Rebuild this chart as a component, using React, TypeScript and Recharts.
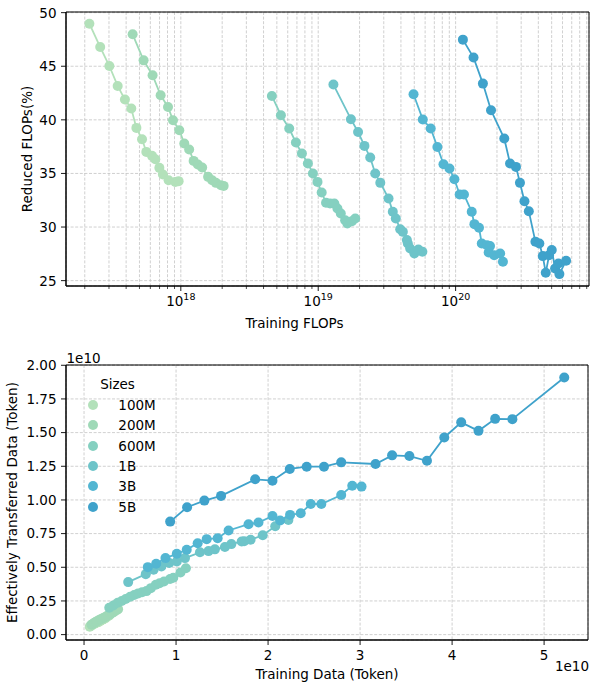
import React from "react";
import { ScatterChart, Scatter, XAxis, YAxis, CartesianGrid, ReferenceArea } from "recharts";

const SIZES = ["100M", "200M", "600M", "1B", "3B", "5B"];
const COLORS = ["#b3e1ba", "#9fd9b7", "#85d0c0", "#6ec4c9", "#53b6d2", "#3fa2cb"];

// top panel: training FLOPs vs reduced FLOPs (%)
const FLOPS_100M = [2.16e17, 2.59e17, 3.02e17, 3.47e17, 3.92e17, 4.36e17, 4.75e17, 5.22e17, 5.61e17, 6.17e17, 6.52e17, 6.98e17, 7.41e17, 8.15e17, 9.12e17, 9.64e17];
const REDUCED_100M = [48.97, 46.79, 45.02, 43.16, 41.89, 41.05, 39.25, 38.19, 37.01, 36.64, 36.33, 35.52, 34.9, 34.37, 34.21, 34.28];
const FLOPS_200M = [4.46e17, 5.36e17, 6.23e17, 7.13e17, 8.07e17, 8.77e17, 9.75e17, 1.06e18, 1.15e18, 1.24e18, 1.33e18, 1.43e18, 1.58e18, 1.69e18, 1.8e18, 1.96e18, 2.05e18];
const REDUCED_200M = [47.98, 45.55, 44.16, 42.29, 41.2, 39.96, 39.03, 37.79, 37.23, 36.17, 35.83, 35.55, 34.68, 34.37, 34.12, 33.9, 33.84];
const FLOPS_600M = [4.6e18, 5.35e18, 6.15e18, 6.88e18, 7.61e18, 8.41e18, 9.15e18, 9.88e18, 1.06e19, 1.14e19, 1.22e19, 1.31e19, 1.38e19, 1.46e19, 1.57e19, 1.63e19, 1.76e19, 1.86e19];
const REDUCED_600M = [42.23, 40.43, 39.19, 37.88, 36.86, 35.93, 35.0, 34.21, 33.22, 32.26, 32.2, 32.2, 31.73, 31.27, 30.64, 30.33, 30.55, 30.8];
const FLOPS_1B = [1.29e19, 1.73e19, 1.95e19, 2.17e19, 2.39e19, 2.6e19, 2.83e19, 3.25e19, 3.49e19, 3.67e19, 3.95e19, 4.13e19, 4.42e19, 4.49e19, 4.67e19, 5.01e19, 5.36e19, 5.73e19];
const REDUCED_1B = [43.29, 40.06, 38.87, 37.57, 36.49, 35.0, 34.12, 32.67, 31.42, 30.8, 29.8, 29.55, 28.78, 28.47, 28.0, 27.54, 27.91, 27.69];
const FLOPS_3B = [4.94e19, 5.77e19, 6.59e19, 7.37e19, 8.16e19, 9.02e19, 9.8e19, 1.07e20, 1.15e20, 1.31e20, 1.37e20, 1.48e20, 1.55e20, 1.69e20, 1.74e20, 1.78e20, 1.91e20, 2.11e20, 2.21e20];
const REDUCED_3B = [42.39, 40.03, 39.19, 37.47, 35.86, 35.46, 34.46, 33.04, 33.04, 31.42, 30.27, 29.93, 28.47, 28.31, 27.63, 28.22, 27.38, 27.54, 26.76];
const FLOPS_5B = [1.13e20, 1.35e20, 1.58e20, 1.81e20, 2.26e20, 2.49e20, 2.75e20, 2.94e20, 3.17e20, 3.41e20, 3.81e20, 4.07e20, 4.31e20, 4.53e20, 4.79e20, 5.01e20, 5.3e20, 5.6e20, 5.69e20, 6.37e20];
const REDUCED_5B = [47.48, 45.81, 43.38, 40.89, 38.26, 35.93, 35.61, 34.12, 32.41, 31.48, 28.62, 28.47, 27.29, 25.73, 27.38, 27.85, 26.14, 26.6, 25.61, 26.86];

// bottom panel: training tokens vs effectively transferred tokens (both x1e10)
const TOKENS_100M = [0.062, 0.074, 0.086, 0.099, 0.112, 0.125, 0.136, 0.149, 0.16, 0.176, 0.186, 0.199, 0.212, 0.233, 0.261, 0.275];
const TRANSFER_100M = [0.059, 0.065, 0.071, 0.075, 0.081, 0.087, 0.088, 0.092, 0.094, 0.102, 0.106, 0.11, 0.114, 0.122, 0.136, 0.143];
const TOKENS_200M = [0.081, 0.097, 0.113, 0.129, 0.146, 0.158, 0.176, 0.191, 0.208, 0.224, 0.24, 0.258, 0.285, 0.305, 0.325, 0.354, 0.37];
const TRANSFER_200M = [0.074, 0.081, 0.089, 0.094, 0.102, 0.105, 0.113, 0.116, 0.123, 0.127, 0.134, 0.142, 0.151, 0.16, 0.168, 0.182, 0.189];
const TOKENS_600M = [0.274, 0.318, 0.366, 0.41, 0.453, 0.501, 0.545, 0.588, 0.631, 0.679, 0.726, 0.78, 0.821, 0.869, 0.935, 0.97, 1.048, 1.107];
const TRANSFER_600M = [0.2, 0.216, 0.236, 0.25, 0.265, 0.281, 0.294, 0.306, 0.314, 0.323, 0.345, 0.37, 0.382, 0.395, 0.413, 0.422, 0.461, 0.493];
const TOKENS_1B = [0.48, 0.671, 0.756, 0.841, 0.926, 1.008, 1.097, 1.26, 1.353, 1.422, 1.531, 1.601, 1.713, 1.74, 1.81, 1.942, 2.078, 2.221];
const TRANSFER_1B = [0.39, 0.449, 0.481, 0.506, 0.532, 0.543, 0.568, 0.611, 0.62, 0.633, 0.65, 0.672, 0.692, 0.693, 0.704, 0.738, 0.805, 0.851];
const TOKENS_3B = [0.693, 0.784, 0.885, 1.008, 1.116, 1.235, 1.333, 1.452, 1.571, 1.788, 1.896, 2.048, 2.131, 2.239, 2.355, 2.464, 2.579, 2.795, 2.915, 3.016];
const TRANSFER_3B = [0.501, 0.526, 0.568, 0.6, 0.63, 0.679, 0.709, 0.716, 0.773, 0.82, 0.832, 0.881, 0.847, 0.889, 0.901, 0.97, 0.97, 1.037, 1.106, 1.099];
const TOKENS_5B = [0.936, 1.12, 1.308, 1.489, 1.86, 2.048, 2.236, 2.42, 2.608, 2.795, 3.168, 3.348, 3.536, 3.727, 3.915, 4.099, 4.287, 4.468, 4.655, 5.219];
const TRANSFER_5B = [0.839, 0.946, 0.995, 1.03, 1.153, 1.143, 1.23, 1.247, 1.247, 1.279, 1.267, 1.331, 1.326, 1.291, 1.464, 1.576, 1.513, 1.602, 1.6, 1.909];

const FLOPS = [FLOPS_100M, FLOPS_200M, FLOPS_600M, FLOPS_1B, FLOPS_3B, FLOPS_5B];
const REDUCED = [REDUCED_100M, REDUCED_200M, REDUCED_600M, REDUCED_1B, REDUCED_3B, REDUCED_5B];
const TOKENS = [TOKENS_100M, TOKENS_200M, TOKENS_600M, TOKENS_1B, TOKENS_3B, TOKENS_5B];
const TRANSFER = [TRANSFER_100M, TRANSFER_200M, TRANSFER_600M, TRANSFER_1B, TRANSFER_3B, TRANSFER_5B];

const FLOPS_DOMAIN: [number, number] = [1.46e17, 9.35e20];
const FLOPS_MAJOR = [1e18, 1e19, 1e20];
const FLOPS_TICKS = [1e17, 1e18, 1e19, 1e20]
  .flatMap((d) => [1, 2, 3, 4, 5, 6, 7, 8, 9].map((m) => m * d))
  .filter((v) => v >= FLOPS_DOMAIN[0] && v <= FLOPS_DOMAIN[1]);
const REDUCED_DOMAIN: [number, number] = [24.5, 50.06];
const REDUCED_TICKS = [25, 30, 35, 40, 45, 50];

const TOKENS_DOMAIN: [number, number] = [-0.196, 5.477];
const TOKENS_TICKS = [0, 1, 2, 3, 4, 5];
const TRANSFER_DOMAIN: [number, number] = [-0.04, 2.002];
const TRANSFER_TICKS = [0, 0.25, 0.5, 0.75, 1, 1.25, 1.5, 1.75, 2];

const FONT = 13.5;
const GRID = { stroke: "#c4c4c4", strokeDasharray: "3 1.6", strokeWidth: 0.8 };

const zip = (xs: number[], ys: number[]) => xs.map((x, i) => ({ x, y: ys[i] }));

function LogTick({ x, y, payload }: any) {
  const v = payload.value;
  const major = FLOPS_MAJOR.includes(v);
  const exp = Math.round(Math.log10(v));
  return (
    <g>
      <line x1={x} x2={x} y1={y} y2={y + (major ? 5 : 3)} stroke="#000" strokeWidth={major ? 0.9 : 0.7} />
      {major && (
        <text x={x} y={y + 20} textAnchor="middle" fontSize={FONT} fill="#000">
          10<tspan dy={-6} fontSize={9.5}>{exp}</tspan>
        </text>
      )}
    </g>
  );
}

function XTick({ x, y, payload }: any) {
  return (
    <g>
      <line x1={x} x2={x} y1={y} y2={y + 5} stroke="#000" strokeWidth={0.9} />
      <text x={x} y={y + 20} textAnchor="middle" fontSize={FONT} fill="#000">{payload.value}</text>
    </g>
  );
}

function YTick({ x, y, payload, digits }: any) {
  return (
    <g>
      <line x1={x - 5} x2={x} y1={y} y2={y} stroke="#000" strokeWidth={0.9} />
      <text x={x - 9.5} y={y} dy="0.36em" textAnchor="end" fontSize={FONT} fill="#000">
        {payload.value.toFixed(digits)}
      </text>
    </g>
  );
}

// the top x title sits left of the axes centre in the source figure
function FlopsTitle({ viewBox }: any) {
  return (
    <text x={viewBox.x + viewBox.width / 2 - 33} y={viewBox.y + viewBox.height - 12} textAnchor="middle" fontSize={FONT} fill="#000">
      Training FLOPs
    </text>
  );
}

const dot = (color: string) => (p: any) => <circle cx={p.cx} cy={p.cy} r={5} fill={color} />;

const labelStyle = { fontSize: FONT, fill: "#000" };

function FlopsPanel() {
  return (
    <ScatterChart width={592} height={340} margin={{ top: 12, right: 3, bottom: 0, left: 0 }}>
      <CartesianGrid {...GRID} />
      <XAxis
        dataKey="x"
        type="number"
        scale="log"
        domain={FLOPS_DOMAIN}
        allowDataOverflow
        ticks={FLOPS_TICKS}
        interval={0}
        tick={<LogTick />}
        tickLine={false}
        tickSize={0}
        tickMargin={0}
        axisLine={{ stroke: "#000" }}
        height={54}
        label={{ content: FlopsTitle }}
      />
      <YAxis
        dataKey="y"
        type="number"
        domain={REDUCED_DOMAIN}
        allowDataOverflow
        ticks={REDUCED_TICKS}
        interval={0}
        tick={<YTick digits={0} />}
        tickLine={false}
        tickSize={0}
        tickMargin={0}
        axisLine={{ stroke: "#000" }}
        width={66}
        label={{ value: "Reduced FLOPs(%)", angle: -90, position: "insideLeft", offset: 27, style: { ...labelStyle, textAnchor: "middle" } }}
      />
      <ReferenceArea x1={FLOPS_DOMAIN[0]} x2={FLOPS_DOMAIN[1]} y1={REDUCED_DOMAIN[0]} y2={REDUCED_DOMAIN[1]} fill="none" stroke="#000" strokeWidth={1} ifOverflow="visible" />
      {SIZES.map((name, i) => (
        <Scatter
          key={name}
          name={name}
          data={zip(FLOPS[i], REDUCED[i])}
          fill={COLORS[i]}
          line={{ stroke: COLORS[i], strokeWidth: 1.8 }}
          shape={dot(COLORS[i])}
          isAnimationActive={false}
        />
      ))}
    </ScatterChart>
  );
}

function TokensPanel() {
  return (
    <ScatterChart width={592} height={346} margin={{ top: 25, right: 4, bottom: 0, left: 0 }}>
      <CartesianGrid {...GRID} />
      <XAxis
        dataKey="x"
        type="number"
        domain={TOKENS_DOMAIN}
        allowDataOverflow
        ticks={TOKENS_TICKS}
        interval={0}
        tick={<XTick />}
        tickLine={false}
        tickSize={0}
        tickMargin={0}
        axisLine={{ stroke: "#000" }}
        height={46}
        label={{ value: "Training Data (Token)", position: "insideBottom", offset: 7, style: labelStyle }}
      />
      <YAxis
        dataKey="y"
        type="number"
        domain={TRANSFER_DOMAIN}
        allowDataOverflow
        ticks={TRANSFER_TICKS}
        interval={0}
        tick={<YTick digits={2} />}
        tickLine={false}
        tickSize={0}
        tickMargin={0}
        axisLine={{ stroke: "#000" }}
        width={66}
        label={{ value: "Effectively Transferred Data (Token)", angle: -90, position: "insideLeft", offset: 12, style: { ...labelStyle, textAnchor: "middle" } }}
      />
      <ReferenceArea x1={TOKENS_DOMAIN[0]} x2={TOKENS_DOMAIN[1]} y1={TRANSFER_DOMAIN[0]} y2={TRANSFER_DOMAIN[1]} fill="none" stroke="#000" strokeWidth={1} ifOverflow="visible" />
      {SIZES.map((name, i) => (
        <Scatter
          key={name}
          name={name}
          data={zip(TOKENS[i], TRANSFER[i])}
          fill={COLORS[i]}
          line={{ stroke: COLORS[i], strokeWidth: 1.8 }}
          shape={dot(COLORS[i])}
          isAnimationActive={false}
        />
      ))}
    </ScatterChart>
  );
}

function SizesLegend() {
  return (
    <div style={{ position: "absolute", left: 80, top: 374, width: 75, fontSize: FONT, color: "#000" }}>
      <div style={{ height: 20.45, lineHeight: "20.45px", textAlign: "center" }}>Sizes</div>
      {SIZES.map((name, i) => (
        <div key={name} style={{ height: 20.45, display: "flex", alignItems: "center", whiteSpace: "nowrap" }}>
          <span style={{ width: 10, height: 10, borderRadius: "50%", background: COLORS[i], marginLeft: 8.3, flexShrink: 0 }} />
          <span style={{ marginLeft: 20 }}>{name}</span>
        </div>
      ))}
    </div>
  );
}

export default function App() {
  return (
    <div style={{ position: "absolute", left: 0, top: 0, width: 592, height: 686, background: "#fff", fontFamily: "DejaVu Sans" }}>
      <div style={{ position: "absolute", left: 0, top: 0 }}>
        <FlopsPanel />
      </div>
      <div style={{ position: "absolute", left: 0, top: 340 }}>
        <TokensPanel />
      </div>
      <SizesLegend />
      <div style={{ position: "absolute", left: 66.5, top: 349.5, fontSize: FONT }}>1e10</div>
      <div style={{ position: "absolute", left: 0, width: 589, top: 657.5, fontSize: FONT, textAlign: "right" }}>1e10</div>
    </div>
  );
}
